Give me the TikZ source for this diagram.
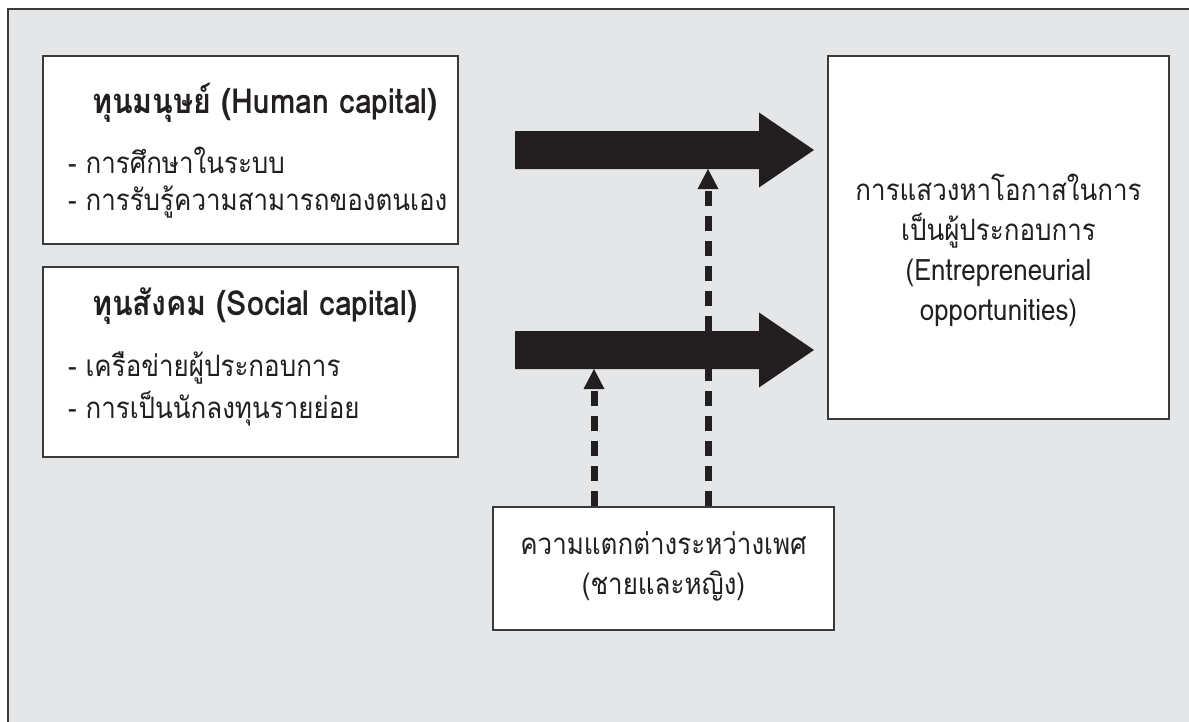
\documentclass[tikz,border=0pt]{standalone}
\usepackage{fontspec}
\setmainfont[Script=Thai,FakeStretch=0.88]{Loma}
\usetikzlibrary{arrows.meta}
\definecolor{bg}{HTML}{E5E6E8}
\definecolor{ink}{HTML}{231F20}
\definecolor{edge}{HTML}{3A3A3A}
\tikzset{
  box/.style={draw=edge, line width=1.5pt, fill=white, rectangle, inner sep=0pt},
  txt/.style={text=ink, inner sep=0pt, font=\fontsize{29.5}{40}\selectfont},
  ttl/.style={txt, font=\fontsize{34.5}{40}\selectfont\bfseries},
  blockarrow/.style={fill=ink, draw=none},
  dashline/.style={draw=ink, line width=7pt, dash pattern=on 15pt off 10pt},
  tiphead/.style={fill=ink, draw=none}
}
\begin{document}
\begin{tikzpicture}[x=1pt,y=-1pt]
\useasboundingbox (0,0) rectangle (1189,721);
% outer frame
\fill[bg] (8,9) rectangle (1195,730);
\draw[edge, line width=2pt] (8,730) -- (8,9) -- (1195,9);
% boxes
\node[box, minimum width=415pt, minimum height=188pt] (human) at (250.5,150) {};
\node[box, minimum width=415pt, minimum height=190pt] (social) at (250.5,362) {};
\node[box, minimum width=341pt, minimum height=363pt] (opp) at (998.5,237.5) {};
\node[box, minimum width=341pt, minimum height=123pt] (gender) at (663.5,568.5) {};
% texts
\node[ttl] (ht) at (265,103) {ทุนมนุษย์ (Human capital)};
\node[txt, anchor=west] (h1) at (68,160) {- การศึกษาในระบบ};
\node[txt, anchor=west] (h2) at (68,202) {- การรับรู้ความสามารถของตนเอง};
\node[ttl] (st) at (255,306) {ทุนสังคม (Social capital)};
\node[txt, anchor=west] (s1) at (68,368) {- เครือข่ายผู้ประกอบการ};
\node[txt, anchor=west] (s2) at (68,409) {- การเป็นนักลงทุนรายย่อย};
\node[txt, align=center] (ot) at (998.5,250) {การแสวงหาโอกาสในการ\\เป็นผู้ประกอบการ\\(Entrepreneurial\\opportunities)};
\node[txt, align=center] (gt) at (663.5,566) {ความแตกต่างระหว่างเพศ\\(ชายและหญิง)};
% block arrows
\foreach \cy in {150,350}{
  \fill[blockarrow] (515,\cy-19) -- (759,\cy-19) -- (759,\cy-37.5) -- (814,\cy)
    -- (759,\cy+37.5) -- (759,\cy+19) -- (515,\cy+19) -- cycle;
}
% dashed arrows (tips at bottom edge of block-arrow shafts)
\coordinate (d1) at (708,169);
\coordinate (d2) at (594,369);
\draw[dashline] (gender.north -| d1) -- ([yshift=-15pt]d1);
\draw[dashline] (gender.north -| d2) -- ([yshift=-15pt]d2);
\fill[tiphead] (d1) -- ++(-10.5,20) -- ++(21,0) -- cycle;
\fill[tiphead] (d2) -- ++(-10.5,20) -- ++(21,0) -- cycle;
\end{tikzpicture}
\end{document}
